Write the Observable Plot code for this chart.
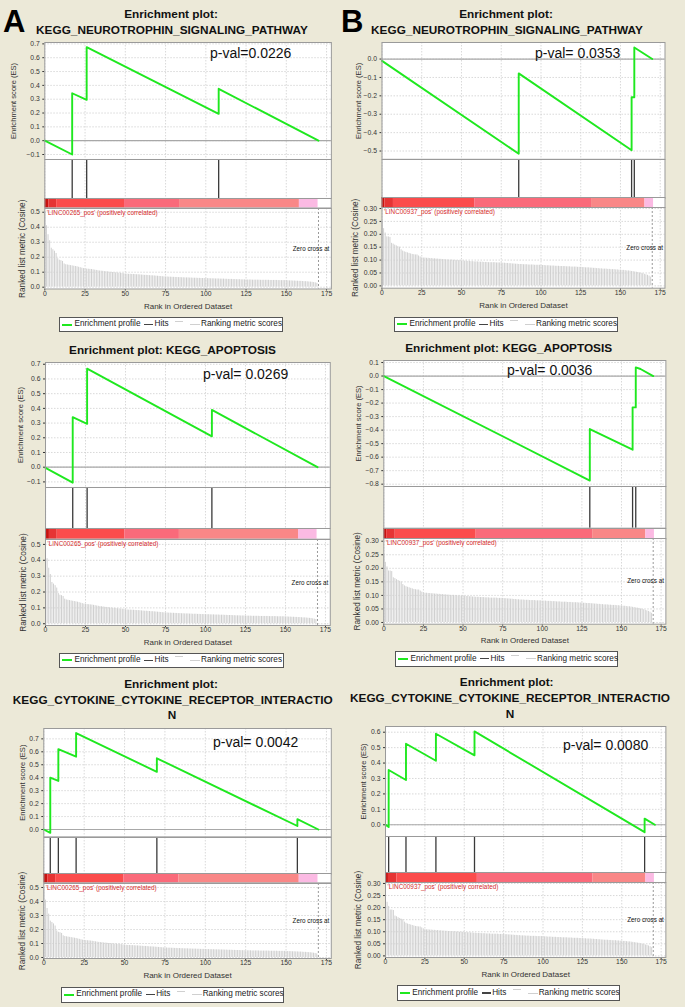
<!DOCTYPE html>
<html><head><meta charset="utf-8">
<script src="https://cdn.jsdelivr.net/npm/d3@7"></script>
<script src="https://cdn.jsdelivr.net/npm/@observablehq/plot@0.6"></script>
<style>
html,body{margin:0;padding:0;background:#ece9d8;}
#page{position:relative;width:685px;height:1007px;background:#ece9d8;overflow:hidden;font-family:"Liberation Sans",Arial,sans-serif;}
.ctr{position:absolute;transform:translate(-50%,-50%);white-space:nowrap;line-height:1;}
.title{font-weight:bold;font-size:11.8px;color:#111;}
.pval{position:absolute;transform:translateY(-50%);white-space:nowrap;line-height:1;font-size:14px;color:#111;}
.letter{position:absolute;font-weight:bold;font-size:31px;line-height:1;color:#000;}
.legend{position:absolute;box-sizing:border-box;border:1px solid #555;background:#fff;font-size:8.2px;color:#222;}
.legend span{position:absolute;white-space:nowrap;line-height:1;}
.sw{position:absolute;}
</style>
</head><body><div id="page"></div>
<script>
// ---------------- data ----------------
const rankMax = 178;
const xTicks = [0, 25, 50, 75, 100, 125, 150, 175];

const esTicksNeuroA = [-0.1, 0, 0.1, 0.2, 0.3, 0.4, 0.5, 0.6, 0.7];
const esTicksNeuroB = [-0.5, -0.4, -0.3, -0.2, -0.1, 0];
const esTicksApopA  = [-0.1, 0, 0.1, 0.2, 0.3, 0.4, 0.5, 0.6, 0.7];
const esTicksApopB  = [-0.8, -0.7, -0.6, -0.5, -0.4, -0.3, -0.2, -0.1, 0, 0.1];
const esTicksCytoA  = [0, 0.1, 0.2, 0.3, 0.4, 0.5, 0.6, 0.7];
const esTicksCytoB  = [0, 0.1, 0.2, 0.3, 0.4, 0.5, 0.6];
const metricTicksA = [0, 0.1, 0.2, 0.3, 0.4, 0.5];
const metricTicksB = [0, 0.05, 0.10, 0.15, 0.20, 0.25, 0.30];

// ranked list metric (Cosine), one value per rank
const metricA = [
 0.50,0.41,0.35,0.31,0.26,0.25,0.24,0.225,0.19,0.18,
 0.177,0.172,0.155,0.15,0.148,0.146,0.144,0.142,0.14,0.138,
 0.136,0.133,0.13,0.127,0.124,0.122,0.121,0.12,0.119,0.118,
 0.116,0.114,0.112,0.11,0.108,0.107,0.106,0.104,0.103,0.102,
 0.10,0.099,0.098,0.097,0.096,0.095,0.094,0.093,0.092,0.09,
 0.088,0.087,0.086,0.086,0.085,0.085,0.084,0.083,0.083,0.082,
 0.081,0.08,0.079,0.079,0.078,0.077,0.076,0.076,0.075,0.074,
 0.073,0.072,0.071,0.07,0.069,0.068,0.068,0.067,0.067,0.066,
 0.066,0.065,0.065,0.064,0.064,0.063,0.063,0.062,0.062,0.062,
 0.061,0.061,0.06,0.06,0.06,0.059,0.059,0.058,0.058,0.058,
 0.057,0.057,0.057,0.056,0.056,0.056,0.055,0.055,0.055,0.054,
 0.054,0.054,0.053,0.053,0.052,0.052,0.052,0.051,0.051,0.05,
 0.05,0.05,0.049,0.049,0.049,0.048,0.048,0.048,0.048,0.047,
 0.047,0.047,0.047,0.047,0.046,0.046,0.046,0.046,0.046,0.046,
 0.045,0.045,0.045,0.045,0.045,0.044,0.044,0.044,0.044,0.044,
 0.043,0.043,0.042,0.042,0.041,0.041,0.04,0.04,0.039,0.039,
 0.038,0.037,0.037,0.036,0.035,0.034,0.033,0.031,0.029,0.026
];
const metricB = [
 0.25,0.222,0.205,0.19,0.19,0.188,0.165,0.162,0.158,0.155,
 0.152,0.15,0.14,0.135,0.132,0.13,0.128,0.126,0.124,0.122,
 0.121,0.12,0.12,0.116,0.112,0.109,0.108,0.108,0.107,0.107,
 0.106,0.106,0.105,0.105,0.104,0.104,0.103,0.103,0.102,0.102,
 0.101,0.101,0.1,0.1,0.1,0.099,0.099,0.098,0.098,0.098,
 0.097,0.097,0.096,0.096,0.095,0.095,0.094,0.094,0.093,0.093,
 0.093,0.092,0.092,0.092,0.091,0.091,0.091,0.09,0.09,0.09,
 0.09,0.09,0.089,0.089,0.089,0.089,0.088,0.088,0.087,0.087,
 0.086,0.086,0.085,0.085,0.084,0.084,0.083,0.083,0.083,0.082,
 0.082,0.082,0.081,0.081,0.081,0.081,0.08,0.08,0.08,0.08,
 0.079,0.079,0.079,0.078,0.078,0.078,0.077,0.077,0.077,0.076,
 0.076,0.076,0.075,0.075,0.075,0.075,0.074,0.074,0.074,0.073,
 0.073,0.073,0.073,0.072,0.072,0.072,0.071,0.071,0.07,0.07,
 0.07,0.069,0.069,0.068,0.068,0.067,0.067,0.066,0.066,0.065,
 0.065,0.065,0.064,0.064,0.063,0.063,0.063,0.062,0.062,0.061,
 0.061,0.06,0.06,0.059,0.058,0.058,0.057,0.056,0.055,0.054,
 0.053,0.052,0.05,0.049,0.047,0.045,0.043,0.041,0.038,0.034
];
const zeroCrossA = 170;
const zeroCrossB = 170;
// heat-map band boundaries (ranks)
const heatBoundsA = [0, 2.4, 7.3, 49.5, 83.7, 158.2, 169.8];
const heatBoundsB = [0, 1.8, 7.2, 58.3, 131.8, 165.4, 170.8];

// hits (ranks of gene-set members)
const hitsNeuroA = [17, 26, 108];
const hitsNeuroB = [86, 157, 158.7];
const hitsApopA  = [17, 26, 104];
const hitsApopB  = [130, 157, 159];
const hitsCytoA  = [4, 9, 20, 70, 157];
const hitsCytoB  = [2, 13, 32, 56.5, 164.5];

// running enrichment score vertices [rank, ES]
const esNeuroA = [[0,0],[17,-0.1],[17,0.343],[26,0.295],[26,0.676],[108,0.194],[108,0.375],[170,0]];
const esNeuroB = [[0,-0.01],[86,-0.515],[86,-0.078],[157,-0.496],[157,-0.208],[158.7,-0.208],[158.7,0.063],[170,0]];
const esApopA  = [[0,-0.005],[17,-0.105],[17,0.34],[26,0.295],[26,0.67],[104,0.21],[104,0.39],[170,0]];
const esApopB  = [[0,0],[130,-0.773],[130,-0.392],[157,-0.545],[157,-0.232],[159,-0.232],[159,0.064],[162,0.052],[170,0]];
const esCytoA  = [[0,0],[4,-0.026],[4,0.40],[9,0.375],[9,0.62],[20,0.562],[20,0.745],[70,0.445],[70,0.55],[157,0.027],[157,0.08],[170,0]];
const esCytoB  = [[0,0],[2,-0.015],[2,0.355],[13,0.29],[13,0.525],[32,0.415],[32,0.59],[56.5,0.45],[56.5,0.605],[164.5,-0.048],[164.5,0.04],[171,0]];

const pvalTexts = ["p-val=0.0226", "p-val= 0.0353", "p-val= 0.0269", "p-val= 0.0036", "p-val= 0.0042", "p-val= 0.0080"];
const titleNeuro = ["Enrichment plot:", "KEGG_NEUROTROPHIN_SIGNALING_PATHWAY"];
const titleApop  = ["Enrichment plot: KEGG_APOPTOSIS"];
const titleCyto  = ["Enrichment plot:", "KEGG_CYTOKINE_CYTOKINE_RECEPTOR_INTERACTIO", "N"];
const posLabelA = "'LINC00265_pos' (positively correlated)";
const posLabelB = "'LINC00937_pos' (positively correlated)";
const legendLabels = ["Enrichment profile", "Hits", "Ranking metric scores"];

// ---------------- styles / layout ----------------
const heatColors = ["#c8120f", "#e63434", "#fb4c4c", "#fa6a7a", "#f98787", "#fbbae3"];
const greenLine = "#1fe81f";
const frameColor = "#9a9a9a";
const grid = {stroke: "#cfcfcf", strokeDasharray: "1.5,1.5", strokeWidth: 0.8};
const baseStyle = {background: "transparent", overflow: "visible", fontFamily: "'Liberation Sans', Arial, sans-serif", fontSize: "6.8px", color: "#333"};
const PAD = 4;

const datasets = [
 {es: esNeuroA, hits: hitsNeuroA, esTicks: esTicksNeuroA, metric: metricA, metricTicks: metricTicksA, fmt: ".1f", heat: heatBoundsA, zero: zeroCrossA, pos: posLabelA, pval: pvalTexts[0], title: titleNeuro},
 {es: esNeuroB, hits: hitsNeuroB, esTicks: esTicksNeuroB, metric: metricB, metricTicks: metricTicksB, fmt: ".2f", heat: heatBoundsB, zero: zeroCrossB, pos: posLabelB, pval: pvalTexts[1], title: titleNeuro},
 {es: esApopA,  hits: hitsApopA,  esTicks: esTicksApopA,  metric: metricA, metricTicks: metricTicksA, fmt: ".1f", heat: heatBoundsA, zero: zeroCrossA, pos: posLabelA, pval: pvalTexts[2], title: titleApop},
 {es: esApopB,  hits: hitsApopB,  esTicks: esTicksApopB,  metric: metricB, metricTicks: metricTicksB, fmt: ".2f", heat: heatBoundsB, zero: zeroCrossB, pos: posLabelB, pval: pvalTexts[3], title: titleApop},
 {es: esCytoA,  hits: hitsCytoA,  esTicks: esTicksCytoA,  metric: metricA, metricTicks: metricTicksA, fmt: ".1f", heat: heatBoundsA, zero: zeroCrossA, pos: posLabelA, pval: pvalTexts[4], title: titleCyto},
 {es: esCytoB,  hits: hitsCytoB,  esTicks: esTicksCytoB,  metric: metricB, metricTicks: metricTicksB, fmt: ".2f", heat: heatBoundsB, zero: zeroCrossB, pos: posLabelB, pval: pvalTexts[5], title: titleCyto}
];

const layouts = [
 {colL:0,   x0:44.3,  fR:330.9, esTop:42,    esBot:159,   hitBot:198,   heatBot:207.5, metBot:288,   esDom:[-0.136,0.71],  metDom:[-0.012,0.525], esLab:-31,   metLab:-22,   rankDy:17,
  titles:[[171,15],[172,31]], pv:[210,53], leg:[59,317,224,15]},
 {colL:340, x0:381.5, fR:664.5, esTop:41.7,  esBot:158.5, hitBot:197.3, heatBot:207.3, metBot:288,   esDom:[-0.545,0.09],  metDom:[-0.009,0.304], esLab:-23,   metLab:-26.5, rankDy:17,
  titles:[[506,15],[507,31]], pv:[535,52.7], leg:[394,316.7,224,15]},
 {colL:0,   x0:45,    fR:329.8, esTop:362.3, esBot:487.3, hitBot:528.3, heatBot:539,   metBot:625,   esDom:[-0.138,0.712], metDom:[-0.011,0.531], esLab:-25,   metLab:-22.3, rankDy:16.7,
  titles:[[172.5,351]], pv:[203,374], leg:[59,652.7,225,15.6]},
 {colL:340, x0:383.3, fR:665.4, esTop:360,   esBot:486,   hitBot:527.7, heatBot:538.3, metBot:624,   esDom:[-0.817,0.115], metDom:[-0.0063,0.31], esLab:-25,   metLab:-26,   rankDy:16,
  titles:[[508.7,349.3]], pv:[507,370], leg:[395,651,223.3,15.7]},
 {colL:0,   x0:43.3,  fR:330.8, esTop:728.3, esBot:836.7, hitBot:873.3, heatBot:882.7, metBot:957.7, esDom:[-0.057,0.78],  metDom:[-0.007,0.5286], esLab:-21.6, metLab:-21.6, rankDy:17.3,
  titles:[[171,685],[172.8,701],[172,716]], pv:[213,741.7], leg:[60.7,986.7,223.3,16]},
 {colL:340, x0:385,   fR:665.4, esTop:726,   esBot:836,   hitBot:872.3, heatBot:882.3, metBot:957.3, esDom:[-0.076,0.637], metDom:[-0.0066,0.304], esLab:-22.3, metLab:-26.7, rankDy:16.7,
  titles:[[506.7,683.3],[510,699.3],[510,715]], pv:[563,745], leg:[396.7,985,223.3,16]}
];

// ---------------- drawing ----------------
const page = document.getElementById("page");
function place(el, left, top) {
  el.style.position = "absolute";
  el.style.left = left + "px";
  el.style.top = top + "px";
  page.appendChild(el);
}
function addDiv(cls, text, left, top) {
  const d = document.createElement("div");
  d.className = cls;
  d.textContent = text;
  d.style.left = left + "px";
  d.style.top = top + "px";
  page.appendChild(d);
  return d;
}

function drawPanel(L, D) {
  const ml = L.x0 - L.colL;
  const w = L.fR - L.colL + PAD;
  const xOpt = {domain: [0, rankMax], axis: null};

  // enrichment score
  const es = Plot.plot({
    width: w, height: L.esBot - L.esTop + 2 * PAD,
    marginLeft: ml, marginRight: PAD, marginTop: PAD, marginBottom: PAD,
    style: baseStyle,
    x: xOpt,
    y: {domain: L.esDom, ticks: D.esTicks, tickFormat: ".1f", tickSize: 2, tickPadding: 3, label: null},
    marks: [
      Plot.frame({fill: "white", stroke: "none"}),
      Plot.ruleX(xTicks, grid),
      Plot.ruleY(D.esTicks, grid),
      Plot.ruleY([0], {stroke: "#a8a8a8", strokeWidth: 1.2}),
      Plot.line(D.es, {x: p => p[0], y: p => p[1], stroke: greenLine, strokeWidth: 1.9}),
      Plot.frame({stroke: frameColor}),
      Plot.text(["Enrichment score (ES)"], {frameAnchor: "left", dx: L.esLab, rotate: -90, fontSize: 7.6, fill: "#333", textAnchor: "middle", lineAnchor: "middle"})
    ]
  });
  place(es, L.colL, L.esTop - PAD);

  // hits
  const hits = Plot.plot({
    width: w, height: L.hitBot - L.esBot + 2 * PAD,
    marginLeft: ml, marginRight: PAD, marginTop: PAD, marginBottom: PAD,
    style: baseStyle,
    x: xOpt,
    y: {domain: [0, 1], axis: null},
    marks: [
      Plot.frame({fill: "white", stroke: "none"}),
      Plot.ruleX(xTicks, grid),
      Plot.ruleX(D.hits, {stroke: "#3a3a3a", strokeWidth: 1.3}),
      Plot.frame({stroke: frameColor})
    ]
  });
  place(hits, L.colL, L.esBot - PAD);

  // heat band
  const segs = d3.pairs(D.heat).map(([a, b], i) => ({a, b, i}));
  const heat = Plot.plot({
    width: w, height: L.heatBot - L.hitBot + 2 * PAD,
    marginLeft: ml, marginRight: PAD, marginTop: PAD, marginBottom: PAD,
    style: baseStyle,
    x: xOpt,
    y: {domain: [0, 1], axis: null},
    color: {type: "identity"},
    marks: [
      Plot.frame({fill: "white", stroke: "none"}),
      Plot.rect(segs, {x1: "a", x2: "b", y1: 0, y2: 1, fill: s => heatColors[s.i]}),
      Plot.frame({stroke: frameColor})
    ]
  });
  place(heat, L.colL, L.hitBot - PAD);

  // ranked list metric
  const bars = D.metric.map((v, i) => ({rank: i, v}));
  const MB = 24;
  const met = Plot.plot({
    width: w, height: L.metBot - L.heatBot + PAD + MB,
    marginLeft: ml, marginRight: PAD, marginTop: PAD, marginBottom: MB,
    style: baseStyle,
    x: {domain: [0, rankMax], ticks: xTicks, tickFormat: "d", tickSize: 2, tickPadding: 0, label: null},
    y: {domain: L.metDom, ticks: D.metricTicks, tickFormat: D.fmt, tickSize: 2, tickPadding: 3, label: null},
    marks: [
      Plot.frame({fill: "white", stroke: "none"}),
      Plot.ruleX(xTicks, grid),
      Plot.ruleY(D.metricTicks, grid),
      Plot.rect(bars, {x1: "rank", x2: b => b.rank + 0.62, y1: 0, y2: "v", fill: "#d0d0d0"}),
      Plot.ruleX([D.zero], {stroke: "#999", strokeDasharray: "2,2"}),
      Plot.text([D.pos], {frameAnchor: "top-left", dx: 2, dy: 4.8, textAnchor: "start", lineAnchor: "middle", fill: "#d42a2a", fontSize: 6.4}),
      Plot.text(["Zero cross at"], {frameAnchor: "right", dx: -2, textAnchor: "end", lineAnchor: "middle", fill: "#111", fontSize: 6.3}),
      Plot.frame({stroke: frameColor}),
      Plot.text(["Ranked list metric (Cosine)"], {frameAnchor: "left", dx: L.metLab, rotate: -90, fontSize: 8.2, fill: "#333", textAnchor: "middle", lineAnchor: "middle"}),
      Plot.text(["Rank in Ordered Dataset"], {frameAnchor: "bottom", dy: L.rankDy, fontSize: 8, fill: "#333", textAnchor: "middle", lineAnchor: "middle"})
    ]
  });
  place(met, L.colL, L.heatBot - PAD);

  // titles
  D.title.forEach((t, i) => addDiv("ctr title", t, L.titles[i][0], L.titles[i][1]));
  // p-value
  addDiv("pval", D.pval, L.pv[0], L.pv[1]);

  // legend
  const [lx, ly, lw, lh] = L.leg;
  const lg = document.createElement("div");
  lg.className = "legend";
  Object.assign(lg.style, {left: lx + "px", top: ly + "px", width: lw + "px", height: lh + "px"});
  const mid = lh / 2 - 1;
  const sw = (left, width, color, thick, dy) => {
    const s = document.createElement("div");
    s.className = "sw";
    Object.assign(s.style, {left: left + "px", width: width + "px", height: thick + "px", background: color, top: (mid - thick / 2 + dy) + "px"});
    lg.appendChild(s);
  };
  const tx = (left, text) => {
    const s = document.createElement("span");
    s.textContent = text;
    Object.assign(s.style, {left: left + "px", top: (mid - 4.3) + "px"});
    lg.appendChild(s);
  };
  sw(2.3, 10, greenLine, 2, 0); tx(14.5, legendLabels[0]);
  sw(84, 9, "#444", 1.3, 0); tx(94.5, legendLabels[1]);
  sw(115, 8, "#d0d0d0", 1, -3.5);
  sw(130, 10, "#d0d0d0", 1, 0); tx(141, legendLabels[2]);
  page.appendChild(lg);
}

layouts.forEach((L, i) => drawPanel(L, datasets[i]));

// panel letters
addDiv("letter", "A", 3, 6);
addDiv("letter", "B", 341, 6);
</script>
</body></html>
